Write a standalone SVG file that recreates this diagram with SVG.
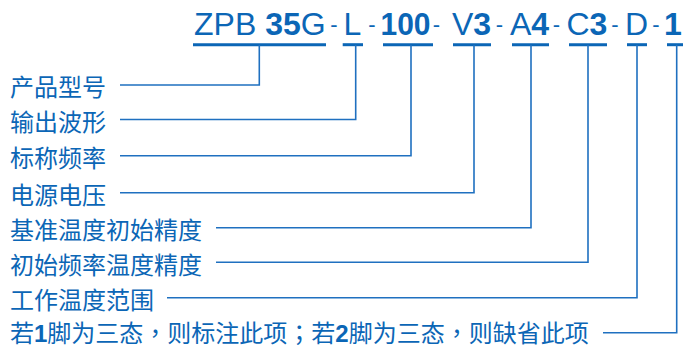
<svg xmlns="http://www.w3.org/2000/svg" width="683" height="346" viewBox="0 0 683 346">
<style>
.code{font-family:"Liberation Sans",Arial,sans-serif;font-size:32px;fill:#0b66b6}
.b{font-weight:bold}
.hy{font-family:"Liberation Sans",Arial,sans-serif;font-size:22px;fill:#0b66b6;text-anchor:middle}
.lbl{font-family:"Noto Sans CJK SC","Noto Sans",sans-serif;font-size:24px;fill:#0b66b6}
.dig{font-family:"Liberation Sans",Arial,sans-serif;font-weight:bold}
.p{font-family:"Noto Sans CJK TC","Noto Sans CJK SC",sans-serif}
.ul{stroke:#0b66b6;stroke-width:3;fill:none}
.cn{stroke:#1f70c0;stroke-width:1.6;fill:none}
</style>
<rect width="683" height="346" fill="#ffffff"/>
<g id="code">
<g id="seg-zpb35g"><text class="code" x="194" y="35">ZPB <tspan class="b">35</tspan>G</text><line class="ul" x1="193" y1="44.7" x2="326" y2="44.7"/></g>
<g id="seg-l"><text class="code" x="343.5" y="35">L</text><line class="ul" x1="342.7" y1="44.7" x2="363" y2="44.7"/></g>
<g id="seg-100"><text class="code b" x="380.5" y="35" textLength="50" lengthAdjust="spacingAndGlyphs">100</text><line class="ul" x1="383" y1="44.7" x2="433" y2="44.7"/></g>
<g id="seg-v3"><text class="code" x="452" y="35">V<tspan class="b">3</tspan></text><line class="ul" x1="453" y1="44.7" x2="491" y2="44.7"/></g>
<g id="seg-a4"><text class="code" x="510" y="35">A<tspan class="b">4</tspan></text><line class="ul" x1="512" y1="44.7" x2="549" y2="44.7"/></g>
<g id="seg-c3"><text class="code" x="566.5" y="35">C<tspan class="b">3</tspan></text><line class="ul" x1="569" y1="44.7" x2="607" y2="44.7"/></g>
<g id="seg-d"><text class="code" x="625" y="35">D</text><line class="ul" x1="627" y1="44.7" x2="647" y2="44.7"/></g>
<g id="seg-1"><text class="code b" x="664" y="35">1</text><line class="ul" x1="667" y1="44.7" x2="683" y2="44.7"/></g>
<g id="hyphens">
<text class="hy" x="334" y="31.5">-</text>
<text class="hy" x="372" y="31.5">-</text>
<text class="hy" x="436.5" y="31.5">-</text>
<text class="hy" x="499.5" y="31.5">-</text>
<text class="hy" x="556.5" y="31.5">-</text>
<text class="hy" x="615" y="31.5">-</text>
<text class="hy" x="656" y="31.5">-</text>
</g>
</g>
<g id="labels">
<g id="n1"><text class="lbl" x="10" y="96">产品型号</text></g>
<g id="n2"><text class="lbl" x="10" y="130.5">输出波形</text></g>
<g id="n3"><text class="lbl" x="10" y="167">标称频率</text></g>
<g id="n4"><text class="lbl" x="10" y="204">电源电压</text></g>
<g id="n5"><text class="lbl" x="10" y="239">基准温度初始精度</text></g>
<g id="n6"><text class="lbl" x="10" y="273.5">初始频率温度精度</text></g>
<g id="n7"><text class="lbl" x="10" y="309">工作温度范围</text></g>
<g id="n8"><text class="lbl" x="10" y="342">若<tspan class="dig">1</tspan>脚为三态<tspan class="p">，</tspan>则标注此项<tspan class="p">；</tspan>若<tspan class="dig">2</tspan>脚为三态<tspan class="p">，</tspan>则缺省此项</text></g>
</g>
<g id="connectors">
<polyline class="cn" points="120,85 259.3,85 259.3,44.7"/>
<polyline class="cn" points="120,119.5 355.7,119.5 355.7,44.7"/>
<polyline class="cn" points="120,155.7 411,155.7 411,44.7"/>
<polyline class="cn" points="120,192.7 474,192.7 474,44.7"/>
<polyline class="cn" points="216,227.7 531,227.7 531,44.7"/>
<polyline class="cn" points="216,262.3 588,262.3 588,44.7"/>
<polyline class="cn" points="167,297.7 637,297.7 637,44.7"/>
<polyline class="cn" points="603,332.7 676.7,332.7 676.7,44.7"/>
</g>
</svg>
